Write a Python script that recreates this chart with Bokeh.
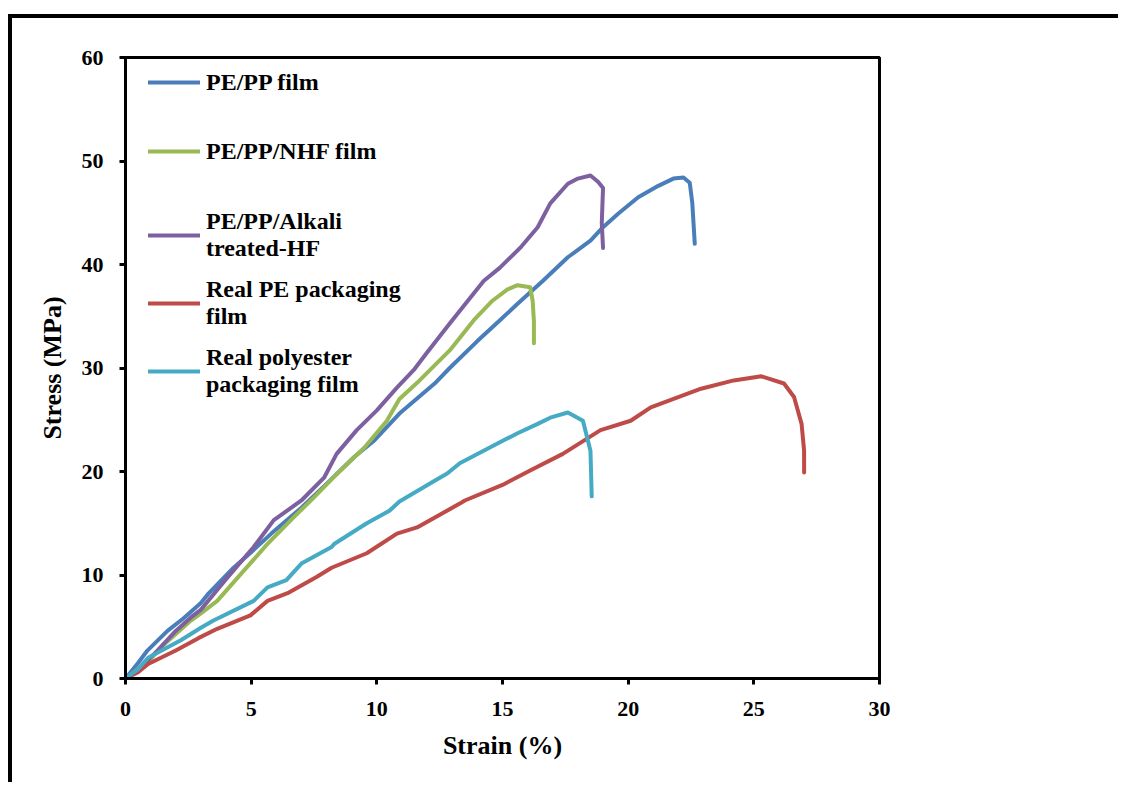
from bokeh.plotting import figure
from bokeh.models import Legend, LegendItem, Range1d, FixedTicker
from bokeh.embed import file_html
from bokeh.resources import INLINE

# ---- data ----
pepp_x = [0, 0.5, 0.87, 1.67, 2.3, 3.0, 3.3, 4.3, 5.0, 5.8, 7.0, 8.0, 9.1, 9.9, 10.9, 12.3, 12.9, 14.0, 14.8, 15.6, 16.6, 17.6, 18.5, 19.0, 19.6, 20.4, 21.2, 21.8, 22.2, 22.45, 22.55, 22.6, 22.65]
pepp_y = [0, 1.5, 2.7, 4.6, 5.8, 7.3, 8.2, 10.7, 12.2, 14.0, 16.5, 18.8, 21.4, 23.0, 25.6, 28.5, 30.0, 32.6, 34.4, 36.2, 38.4, 40.7, 42.3, 43.6, 44.9, 46.5, 47.6, 48.3, 48.4, 47.9, 46.0, 44.0, 42.0]

nhf_x = [0, 0.5, 1.0, 1.5, 2.0, 2.6, 3.0, 3.65, 4.7, 5.65, 6.7, 7.5, 8.55, 9.5, 10.4, 10.9, 11.7, 12.9, 13.85, 14.6, 15.2, 15.6, 16.1, 16.2, 16.25, 16.25]
nhf_y = [0, 0.9, 1.9, 3.2, 4.3, 5.6, 6.3, 7.5, 10.4, 13.0, 15.6, 17.5, 20.1, 22.3, 24.9, 27.0, 28.8, 31.7, 34.6, 36.5, 37.6, 38.0, 37.8, 36.5, 34.5, 32.4]

alk_x = [0, 0.5, 1.27, 2.0, 2.6, 2.98, 4.0, 5.1, 5.9, 7.0, 7.9, 8.4, 9.2, 10.0, 10.8, 11.5, 12.0, 12.9, 14.25, 14.9, 15.7, 16.4, 16.9, 17.6, 18.0, 18.5, 18.8, 19.0, 18.95, 19.0]
alk_y = [0, 0.8, 2.7, 4.6, 5.9, 6.6, 9.6, 12.7, 15.3, 17.2, 19.4, 21.7, 24.0, 25.9, 28.1, 29.9, 31.5, 34.3, 38.4, 39.7, 41.6, 43.6, 45.9, 47.8, 48.3, 48.6, 48.0, 47.4, 44.0, 41.6]

pe_x = [0, 0.5, 0.9, 2.0, 2.9, 3.65, 4.97, 5.65, 6.5, 7.6, 8.2, 9.6, 10.8, 11.6, 13.3, 13.5, 15.0, 16.1, 17.4, 18.9, 20.1, 20.9, 22.9, 24.2, 25.3, 26.2, 26.6, 26.9, 27.0, 27.0]
pe_y = [0, 0.6, 1.4, 2.7, 3.9, 4.8, 6.1, 7.5, 8.3, 9.8, 10.7, 12.1, 14.0, 14.6, 16.9, 17.2, 18.7, 20.1, 21.7, 24.0, 24.9, 26.2, 28.0, 28.8, 29.2, 28.5, 27.2, 24.6, 22.0, 19.9]

pet_x = [0, 0.5, 0.9, 2.2, 3.0, 3.5, 5.1, 5.65, 6.4, 7.0, 8.2, 8.3, 9.6, 10.5, 10.9, 12.3, 12.8, 13.3, 14.8, 15.6, 16.4, 16.9, 17.6, 18.2, 18.5, 18.55]
pet_y = [0, 0.9, 2.0, 3.7, 4.9, 5.6, 7.5, 8.8, 9.5, 11.1, 12.7, 13.0, 15.0, 16.2, 17.1, 19.1, 19.8, 20.8, 22.7, 23.7, 24.6, 25.2, 25.7, 24.9, 22.0, 17.6]

labels = ["PE/PP film", "PE/PP/NHF film", "PE/PP/Alkali\ntreated-HF",
          "Real PE packaging\nfilm", "Real polyester\npackaging film"]
colors = ["#4A7EBB", "#98B954", "#7D60A0", "#BE4B48", "#46AAC5"]

x_ticks = [0, 5, 10, 15, 20, 25, 30]
y_ticks = [0, 10, 20, 30, 40, 50, 60]

FONT = "Liberation Serif"

p = figure(width=1110, height=768, output_backend="svg", toolbar_location=None,
           x_range=Range1d(0, 30), y_range=Range1d(0, 60),
           min_border_left=113, min_border_top=39, min_border_right=243,
           min_border_bottom=108)
p.styles = {"margin-top": "14px", "margin-left": "8px",
            "border-top": "4px solid black", "border-left": "4px solid black"}
p.grid.visible = False
p.outline_line_color = "black"
p.outline_line_width = 3

for ax in (p.xaxis[0], p.yaxis[0]):
    ax.axis_line_width = 3
    ax.major_tick_line_width = 3
    ax.major_tick_out = 6
    ax.major_tick_in = 0
    ax.minor_tick_line_color = None
    ax.major_label_text_font = FONT
    ax.major_label_text_font_style = "bold"
    ax.major_label_text_font_size = "22px"
    ax.major_label_text_color = "black"
    ax.axis_label_text_font = FONT
    ax.axis_label_text_font_style = "bold"
    ax.axis_label_text_font_size = "26px"
    ax.axis_label_text_color = "black"

p.xaxis.ticker = FixedTicker(ticks=x_ticks)
p.yaxis.ticker = FixedTicker(ticks=y_ticks)
p.xaxis.axis_label = "Strain (%)"
p.yaxis.axis_label = "Stress (MPa)"
p.xaxis.major_label_standoff = 17
p.yaxis.major_label_standoff = 16
p.xaxis.axis_label_standoff = 12
p.yaxis.axis_label_standoff = 12

series = [(pepp_x, pepp_y), (nhf_x, nhf_y), (alk_x, alk_y), (pe_x, pe_y), (pet_x, pet_y)]
renderers = []
for (xs, ys), c in zip(series, colors):
    r = p.line(xs, ys, line_color=c, line_width=4, line_join="round", line_cap="round")
    renderers.append(r)

def make_legend(items, loc, label_height, spacing):
    lg = Legend(items=items, location=loc, orientation="vertical",
                label_text_font=FONT, label_text_font_style="bold",
                label_text_font_size="24px", label_text_color="black",
                label_text_line_height=1.3,
                label_height=label_height, spacing=spacing,
                glyph_width=52, glyph_height=20, label_standoff=6,
                padding=0, margin=0, border_line_color=None,
                background_fill_alpha=0)
    p.add_layout(lg, "center")
    return lg

items1 = [LegendItem(label=labels[i], renderers=[renderers[i]]) for i in range(2)]
items2 = [LegendItem(label=labels[i], renderers=[renderers[i]]) for i in range(2, 5)]
make_legend(items1, (23, 513), 28, 41)
make_legend(items2, (23, 276), 62, 6)

open("out.html", "w").write(file_html(p, INLINE))
